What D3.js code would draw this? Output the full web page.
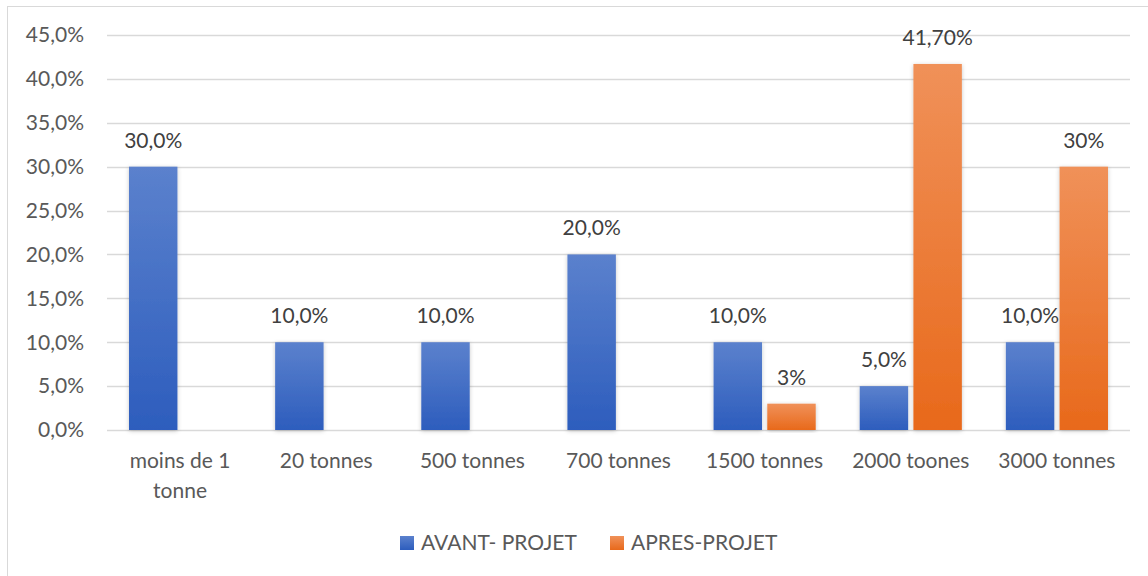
<!DOCTYPE html>
<html>
<head>
<meta charset="utf-8">
<script src="https://cdn.jsdelivr.net/npm/d3@7"></script>
<style>
  body { margin: 0; background: #fff; }
  svg { display: block; font-family: Lato, "Open Sans", sans-serif; }
</style>
</head>
<body>
<div id="chart"></div>
<script>
const categories = [["moins de 1", "tonne"], ["20 tonnes"], ["500 tonnes"], ["700 tonnes"], ["1500 tonnes"], ["2000 toones"], ["3000 tonnes"]];
const avantValues = [30, 10, 10, 20, 10, 5, 10];
const apresValues = [0, 0, 0, 0, 3, 41.7, 30];
const avantLabels = ["30,0%", "10,0%", "10,0%", "20,0%", "10,0%", "5,0%", "10,0%"];
const apresLabels = ["", "", "", "", "3%", "41,70%", "30%"];
const yTicks = [0, 5, 10, 15, 20, 25, 30, 35, 40, 45];
const seriesNames = ["AVANT- PROJET", "APRES-PROJET"];

const width = 1148, height = 576;
const margin = {left: 107, right: 18, top: 35, bottom: 146};
const fontSize = "21px";

const svg = d3.select("#chart").append("svg")
  .attr("width", width)
  .attr("height", height);

const defs = svg.append("defs");

function gradient(id, top, bottom) {
  const g = defs.append("linearGradient")
    .attr("id", id)
    .attr("x1", 0).attr("y1", 0)
    .attr("x2", 0).attr("y2", 1);
  g.append("stop").attr("offset", "0%").attr("stop-color", top);
  g.append("stop").attr("offset", "100%").attr("stop-color", bottom);
}
gradient("blueGrad", "#5b81cd", "#2d5dbd");
gradient("orangeGrad", "#f09159", "#e8691b");

const shadow = defs.append("filter")
  .attr("id", "shadow")
  .attr("x", "-20%").attr("y", "-10%")
  .attr("width", "140%").attr("height", "120%");
shadow.append("feDropShadow")
  .attr("dx", 0).attr("dy", 1)
  .attr("stdDeviation", 2)
  .attr("flood-color", "#000")
  .attr("flood-opacity", 0.22);

// outer frame
svg.append("rect")
  .attr("x", 7.5).attr("y", 6.5)
  .attr("width", width + 10).attr("height", height + 10)
  .attr("fill", "none")
  .attr("stroke", "#d9d9d9");

const x = d3.scaleBand()
  .domain(d3.range(categories.length))
  .range([margin.left, width - margin.right]);

const y = d3.scaleLinear()
  .domain([0, 45])
  .range([height - margin.bottom, margin.top]);

const inner = d3.scaleBand()
  .domain([0, 1])
  .range([22, x.bandwidth() - 22])
  .paddingInner(10 / (x.bandwidth() - 44));

// grid
svg.append("g")
  .selectAll("line")
  .data(yTicks)
  .join("line")
  .attr("x1", margin.left)
  .attr("x2", width - margin.right)
  .attr("y1", d => Math.round(y(d)) + 0.5)
  .attr("y2", d => Math.round(y(d)) + 0.5)
  .attr("stroke", "#d9d9d9")
  .attr("stroke-width", 1.3);

// y tick labels
svg.append("g")
  .selectAll("text")
  .data(yTicks)
  .join("text")
  .attr("x", 84)
  .attr("y", d => y(d))
  .attr("dy", "0.35em")
  .attr("text-anchor", "end")
  .attr("fill", "#595959")
  .style("font-size", fontSize)
  .text(d => d3.format(".1f")(d).replace(".", ",") + "%");

const series = [
  {values: avantValues, labels: avantLabels, fill: "url(#blueGrad)"},
  {values: apresValues, labels: apresLabels, fill: "url(#orangeGrad)"}
];

series.forEach((s, si) => {
  const g = svg.append("g");
  g.selectAll("rect")
    .data(s.values)
    .join("rect")
    .attr("x", (d, i) => x(i) + inner(si))
    .attr("y", d => y(d))
    .attr("width", inner.bandwidth())
    .attr("height", d => y(0) - y(d))
    .attr("fill", s.fill)
    .attr("filter", d => d > 0 ? "url(#shadow)" : null);

  g.selectAll("text")
    .data(s.values)
    .join("text")
    .attr("x", (d, i) => x(i) + inner(si) + inner.bandwidth() / 2)
    .attr("y", d => y(d) - 19)
    .attr("text-anchor", "middle")
    .attr("fill", "#404040")
    .style("font-size", fontSize)
    .text((d, i) => s.labels[i]);
});

// category labels
const cat = svg.append("g")
  .selectAll("text")
  .data(categories)
  .join("text")
  .attr("x", (d, i) => x(i) + x.bandwidth() / 2)
  .attr("y", 468)
  .attr("text-anchor", "middle")
  .attr("fill", "#595959")
  .style("font-size", fontSize);
cat.selectAll("tspan")
  .data(d => d)
  .join("tspan")
  .attr("x", function() { return d3.select(this.parentNode).attr("x"); })
  .attr("dy", (d, i) => i === 0 ? 0 : 30)
  .text(d => d);

// legend
const legendX = [400, 610];
const legend = svg.append("g")
  .selectAll("g")
  .data(seriesNames)
  .join("g")
  .attr("transform", (d, i) => `translate(${legendX[i]},536)`);
legend.append("rect")
  .attr("width", 14).attr("height", 14)
  .attr("fill", (d, i) => series[i].fill);
legend.append("text")
  .attr("x", 21)
  .attr("y", 7)
  .attr("dy", "0.35em")
  .attr("fill", "#595959")
  .style("font-size", fontSize)
  .text(d => d);
</script>
</body>
</html>
